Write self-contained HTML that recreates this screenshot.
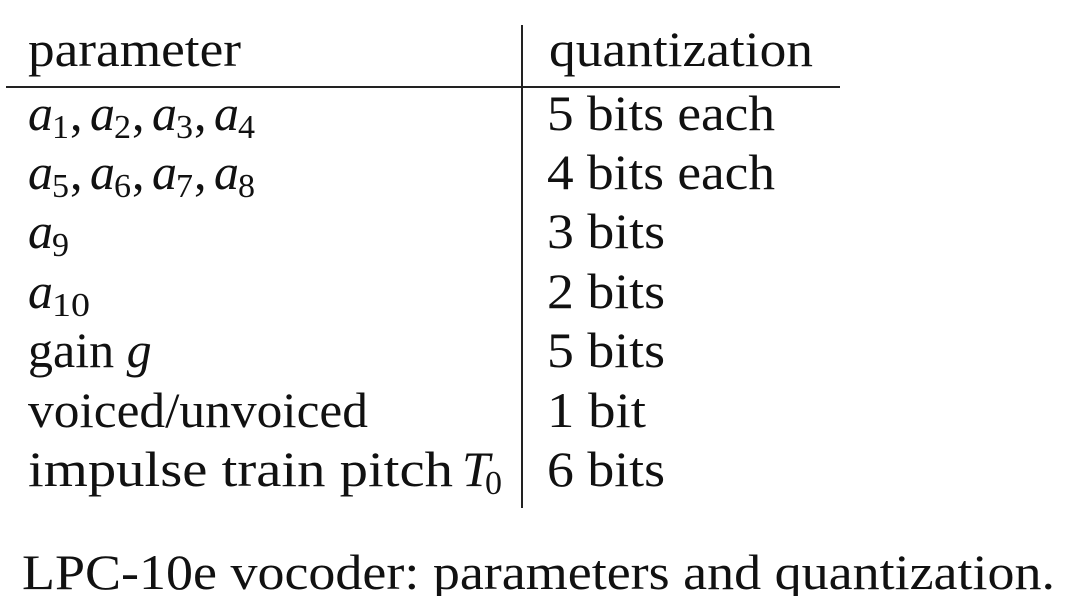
<!DOCTYPE html>
<html><head><meta charset="utf-8"><style>
html,body{margin:0;padding:0;background:#fff;}
svg{display:block;}
text{font-family:"Liberation Serif",serif;font-size:50px;fill:#111;}
.i{font-style:italic;}
.s{font-size:34px;}
</style></head><body>
<svg width="1071" height="596" viewBox="0 0 1071 596" xmlns="http://www.w3.org/2000/svg">
<line x1="522" y1="25" x2="522" y2="508" stroke="#222" stroke-width="2"/>
<line x1="6" y1="87" x2="840" y2="87" stroke="#222" stroke-width="2"/>
<text x="28" y="66" textLength="213" lengthAdjust="spacingAndGlyphs">parameter</text>
<text x="549" y="66" textLength="264" lengthAdjust="spacingAndGlyphs">quantization</text>

<g>
<text class="i" x="28" y="130">a</text><text class="s" x="52" y="138">1</text><text x="70" y="130">,</text>
<text class="i" x="90" y="130">a</text><text class="s" x="114" y="138">2</text><text x="132" y="130">,</text>
<text class="i" x="152" y="130">a</text><text class="s" x="176" y="138">3</text><text x="194" y="130">,</text>
<text class="i" x="214" y="130">a</text><text class="s" x="238" y="138">4</text>
</g>
<g>
<text class="i" x="28" y="189">a</text><text class="s" x="52" y="197">5</text><text x="70" y="189">,</text>
<text class="i" x="90" y="189">a</text><text class="s" x="114" y="197">6</text><text x="132" y="189">,</text>
<text class="i" x="152" y="189">a</text><text class="s" x="176" y="197">7</text><text x="194" y="189">,</text>
<text class="i" x="214" y="189">a</text><text class="s" x="238" y="197">8</text>
</g>
<text class="i" x="28" y="248">a</text><text class="s" x="52" y="256">9</text>
<text class="i" x="28" y="308">a</text><text class="s" x="52" y="316" textLength="38" lengthAdjust="spacingAndGlyphs">10</text>
<text x="28" y="367">gain <tspan class="i">g</tspan></text>
<text x="28" y="427" textLength="340" lengthAdjust="spacingAndGlyphs">voiced/unvoiced</text>
<text x="28" y="486" textLength="425" lengthAdjust="spacingAndGlyphs">impulse train pitch</text>
<text class="i" x="462" y="486">T</text><text class="s" x="485" y="494">0</text>

<text x="547" y="130" textLength="228" lengthAdjust="spacingAndGlyphs">5 bits each</text>
<text x="547" y="189" textLength="228" lengthAdjust="spacingAndGlyphs">4 bits each</text>
<text x="547" y="248" textLength="118" lengthAdjust="spacingAndGlyphs">3 bits</text>
<text x="547" y="308" textLength="118" lengthAdjust="spacingAndGlyphs">2 bits</text>
<text x="547" y="367" textLength="118" lengthAdjust="spacingAndGlyphs">5 bits</text>
<text x="547" y="427" textLength="99" lengthAdjust="spacingAndGlyphs">1 bit</text>
<text x="547" y="486" textLength="118" lengthAdjust="spacingAndGlyphs">6 bits</text>

<text x="22" y="589" textLength="1033" lengthAdjust="spacingAndGlyphs">LPC-10e vocoder:  parameters and quantization.</text>
</svg>
</body></html>
